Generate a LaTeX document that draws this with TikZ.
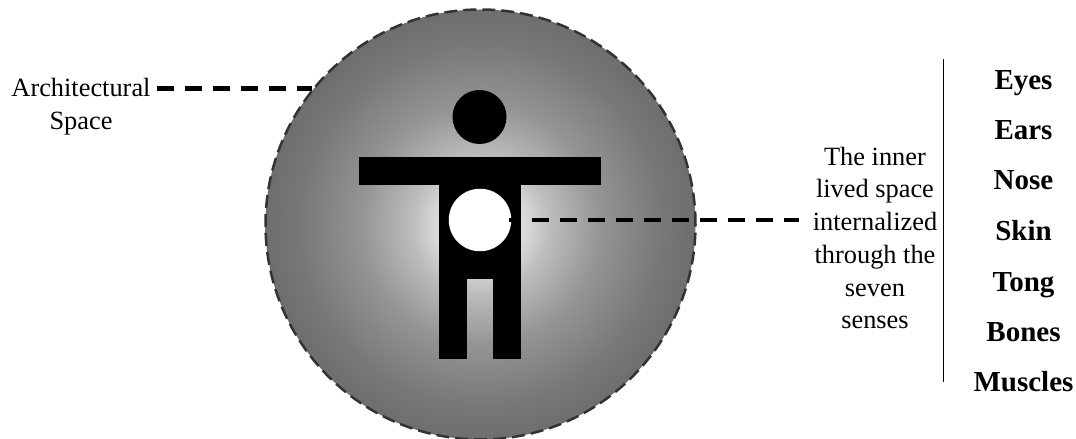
\documentclass[tikz,border=0pt]{standalone}
\usepackage{fontspec}
\setmainfont{Liberation Serif}
\usepackage{tikz}
\usetikzlibrary{shapes,positioning,calc}
\definecolor{RimGrey}{HTML}{333333}
\pgfdeclareradialshading{roomglow}{\pgfpoint{0bp}{0bp}}{
    color(0bp)=(white); color(2bp)=(white!97!black); color(4.5bp)=(white!88!black);
    color(8bp)=(white!74!black); color(14bp)=(white!58!black); color(21bp)=(white!47!black);
    color(25bp)=(white!43!black); color(50bp)=(white!43!black)}

\begin{document}
\begin{tikzpicture}[
    room/.style={circle, draw=RimGrey, line width=0.05cm, dash pattern=on 0.26cm off 0.12cm, shading=roomglow, minimum size=8.6cm, inner sep=0pt},
    headpart/.style={circle, fill=black, minimum size=1.08cm, inner sep=0pt},
    armpart/.style={rectangle, fill=black, minimum width=4.83cm, minimum height=0.55cm, inner sep=0pt},
    heartpart/.style={circle, fill=white, minimum size=1.25cm, inner sep=0pt},
    plainlabel/.style={align=center, font=\fontsize{15}{18.6}\selectfont},
    sense/.style={anchor=base, font=\fontsize{16.5}{20}\selectfont\bfseries},
    leader/.style={line width=0.09cm, dash pattern=on 0.34cm off 0.22cm}
]
    \useasboundingbox (0, 0) rectangle (21.52, 8.78);

    \node[room] (space) at (9.61, 4.29) {};

    % the figure
    \node[headpart] (head) at (9.59, 6.44) {};
    \node[armpart] (arms) at (9.6, 5.355) {};
    \fill[black] (8.786, 5.2) rectangle (10.42, 3.206);
    \fill[black] (8.786, 3.3) rectangle (9.34, 1.594);
    \fill[black] (9.854, 3.3) rectangle (10.42, 1.594);
    \node[heartpart] (heart) at (9.6, 4.38) {};

    \node[plainlabel, inner sep=0.12cm] (archlabel) at (1.62, 6.65) {Architectural\\Space};
    \node[plainlabel, inner sep=0.26cm] (livedlabel) at (17.5, 4.02) {The inner\\lived space\\internalized\\through the\\seven\\senses};

    \draw[leader] (archlabel.east |- space.141) -- (space.141);
    \draw[leader, dash phase=0.086cm] ([xshift=-0.06cm]heart.east) -- (livedlabel.west |- heart.east);

    \coordinate (bartop) at (18.874, 7.6);
    \coordinate (barbottom) at (18.874, 1.146);
    \draw[line width=0.026cm] (bartop) -- (barbottom);

    \node[sense] (eyes) at (20.47, 6.99) {Eyes};
    \node[sense] (ears) at (20.47, 5.99) {Ears};
    \node[sense] (nose) at (20.47, 4.99) {Nose};
    \node[sense] (skin) at (20.47, 3.97) {Skin};
    \node[sense] (tong) at (20.47, 2.95) {Tong};
    \node[sense] (bones) at (20.47, 1.95) {Bones};
    \node[sense] (muscles) at (20.47, 0.94) {Muscles};
\end{tikzpicture}
\end{document}
